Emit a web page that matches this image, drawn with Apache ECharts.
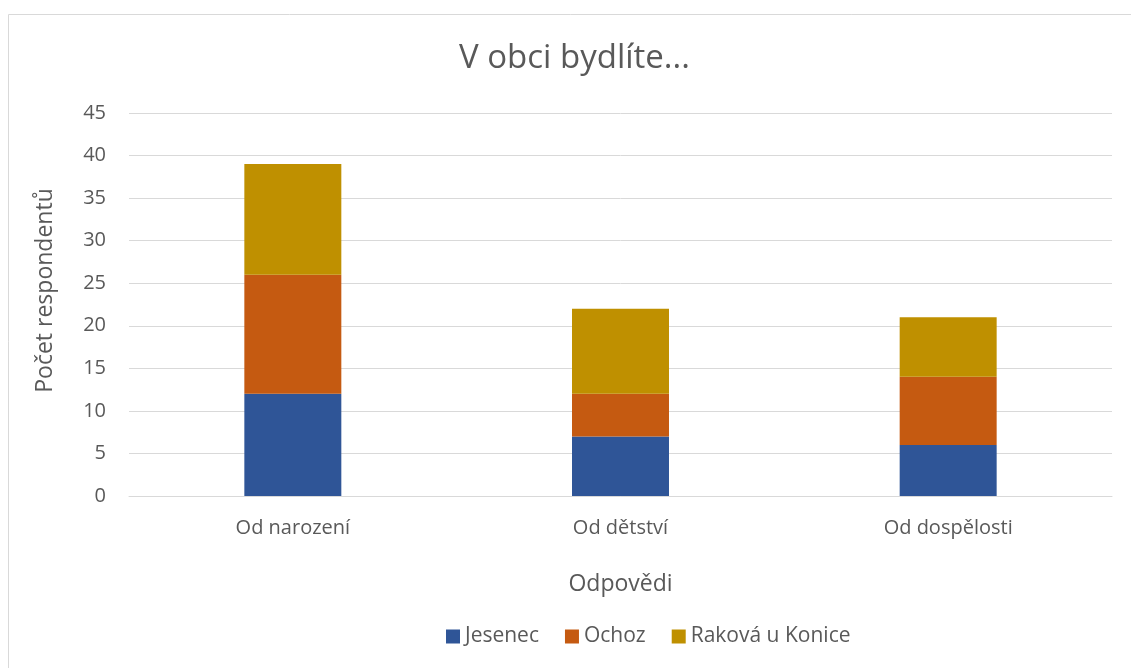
<!DOCTYPE html>
<html>
<head>
<meta charset="utf-8">
<script src="https://cdn.jsdelivr.net/npm/echarts@6/dist/echarts.min.js"></script>
<style>
  html, body { margin: 0; padding: 0; background: #fff; }
  #chart { width: 1131px; height: 668px; }
</style>
</head>
<body>
<div id="chart"></div>
<script>
const categories = ['Od narození', 'Od dětství', 'Od dospělosti']
const jesenec = [12, 7, 6]
const ochoz = [14, 5, 8]
const rakova = [13, 10, 7]

const textColor = '#595959'
const font = 'Open Sans'

const myChart = echarts.init(document.getElementById('chart'))

function barSeries(name, data, color) {
  return {
    name,
    type: 'bar',
    stack: 'total',
    barWidth: '29.6%',
    itemStyle: { color },
    data,
  }
}

myChart.setOption({
  animation: false,
  textStyle: { fontFamily: font, color: textColor },
  graphic: [
    {
      type: 'rect',
      shape: { x: 8.5, y: 14.5, width: 1140, height: 680 },
      style: { fill: null, stroke: '#d9d9d9', lineWidth: 1 },
      silent: true,
    },
  ],
  title: {
    text: 'V obci bydlíte...',
    left: 454,
    top: 37,
    textStyle: { fontFamily: font, fontSize: 33, fontWeight: 'normal', color: textColor },
  },
  legend: {
    top: 621,
    left: 441,
    itemWidth: 14,
    itemHeight: 14,
    itemGap: 26,
    icon: 'rect',
    textStyle: { fontFamily: font, fontSize: 21, color: textColor },
    data: ['Jesenec', 'Ochoz', 'Raková u Konice'],
  },
  grid: {
    left: 129,
    right: 19,
    top: 113,
    bottom: 172,
  },
  xAxis: {
    type: 'category',
    data: categories,
    name: 'Odpovědi',
    nameLocation: 'middle',
    nameGap: 77,
    nameTextStyle: { fontFamily: font, fontSize: 23, color: textColor },
    axisLine: { lineStyle: { color: '#d9d9d9', width: 1 } },
    axisTick: { show: false },
    axisLabel: { fontFamily: font, fontSize: 20, color: textColor, margin: 22 },
  },
  yAxis: {
    type: 'value',
    min: 0,
    max: 45,
    interval: 5,
    name: 'Počet respondentů',
    nameLocation: 'middle',
    nameGap: 72,
    nameTextStyle: { fontFamily: font, fontSize: 23, color: textColor, padding: [0, 0, 0, 28] },
    axisLine: { show: false },
    axisTick: { show: false },
    axisLabel: { fontFamily: font, fontSize: 20, color: textColor, margin: 23 },
    splitLine: { lineStyle: { color: '#d9d9d9', width: 1 } },
  },
  series: [
    barSeries('Jesenec', jesenec, '#2f5597'),
    barSeries('Ochoz', ochoz, '#c55a11'),
    barSeries('Raková u Konice', rakova, '#bf9000'),
  ],
})
</script>
</body>
</html>
